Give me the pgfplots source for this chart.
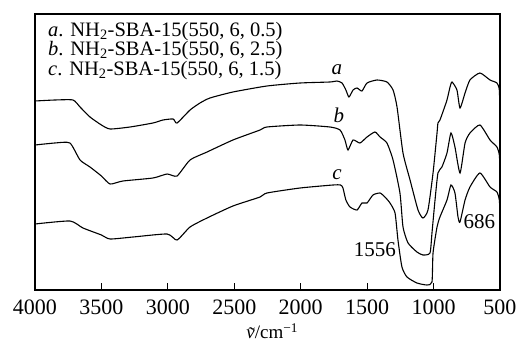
\documentclass[border=0pt]{standalone}
\usepackage{fontspec}
\setmainfont{Liberation Serif}
\usepackage{pgfplots}
\pgfplotsset{compat=1.18}
\usepackage{pgfplotstable}

% wavenumber symbol: italic nu with a tilde set over it
\newcommand{\nutilde}{\textit{\ooalign{ν\cr\hidewidth\raisebox{-0.15ex}{˜}\hidewidth\cr}}}

% FTIR spectra (arbitrary transmittance units, offset per sample)
\pgfplotstableread{
wn    T
4000  189
3850  190
3714  190
3661  183
3586  173
3500  165
3435  161
3285  163
3112  167
3037  170
2960  171
2931  167
2833  180
2758  187
2683  192
2510  198
2254  204
2005  207
1780  208
1727  209
1689  207
1660  200
1637  193
1606  200
1576  202
1539  199
1501  207
1426  210
1351  208
1305  200
1275  183
1230  137
1177  110
1117  80
1080  72
1042  80
1004  117
974   157
967   167
952   170
930   178
899   190
876   203
861   208
824   200
801   182
763   197
726   210
651   217
575   210
523   207
505   200
500   172
}\sampleA

\pgfplotstableread{
wn    T
4000  145
3850  147
3737  147
3661  130
3586  123
3500  114
3435  106
3338  109
3112  112
3006  116
2931  114
2833  130
2705  138
2510  150
2306  160
2254  163
2005  165
1780  163
1704  160
1667  150
1644  140
1606  150
1554  147
1501  153
1441  158
1403  153
1351  147
1305  130
1253  97
1230  63
1192  47
1125  38
1080  35
1027  37
1012  57
989   90
967   117
937   123
899   137
869   157
839   143
801   117
763   147
726   157
651   165
575   150
523   143
505   135
500   118
}\sampleB

\pgfplotstableread{
wn    T
4000  66
3737  69
3639  62
3500  55
3435  51
3262  53
3006  56
2931  50
2833  63
2705  72
2510  84
2306  93
2254  97
2005  102
1757  105
1700  105
1682  102
1660  90
1629  83
1576  80
1539  87
1501  87
1456  95
1403  97
1366  93
1328  87
1290  77
1268  50
1238  23
1200  13
1125  7
1049  5
1012  8
1004  37
974   63
952   73
899   90
869   105
839   97
816   73
801   68
763   90
726   103
651   117
575   103
523   98
505   90
500   75
}\sampleC

\begin{document}
\begin{tikzpicture}
\useasboundingbox (-35pt,-53pt) rectangle (482pt,290pt);
\begin{axis}[
  scale only axis,
  width=465pt, height=276pt,
  x dir=reverse,
  xmin=500, xmax=4000,
  ymin=0, ymax=276,
  xtick={500,1000,...,4000},
  xtick pos=bottom,
  xtick align=inside,
  major tick length=7pt,
  ytick=\empty,
  axis line style={line width=1.1pt},
  every tick/.style={line width=0.9pt, black},
  /pgf/number format/assume math mode=true,
  /pgf/number format/1000 sep={},
  xticklabel style={font=\fontsize{22}{22}\selectfont,
    anchor=center, yshift=-17pt},
  xlabel={\nutilde/cm\textsuperscript{−1}},
  xlabel style={font=\fontsize{19}{19}\selectfont,
    at={(axis description cs:0.51,0)}, anchor=center, yshift=-42pt},
  clip=false,
]
\addplot[black, line width=1.1pt, smooth, tension=0.35] table[x=wn, y=T] {\sampleA};
\addplot[black, line width=1.1pt, smooth, tension=0.35] table[x=wn, y=T] {\sampleB};
\addplot[black, line width=1.1pt, smooth, tension=0.35] table[x=wn, y=T] {\sampleC};

\node[anchor=north west, align=left, inner sep=0pt,
      font=\fontsize{20.5}{15.5}\selectfont]
  at (rel axis cs:0.028,0.972)
  {\textit{a}. NH\textsubscript{2}-SBA-15(550, 6, 0.5)\\
   \textit{b}. NH\textsubscript{2}-SBA-15(550, 6, 2.5)\\
   \textit{c}. NH\textsubscript{2}-SBA-15(550, 6, 1.5)};

\node[font=\fontsize{21}{21}\selectfont\itshape] at (axis cs:1727,220) {a};
\node[font=\fontsize{21}{21}\selectfont\itshape] at (axis cs:1712,175) {b};
\node[font=\fontsize{21}{21}\selectfont\itshape] at (axis cs:1727,115) {c};
\node[font=\fontsize{21}{21}\selectfont] at (axis cs:1441,40) {1556};
\node[font=\fontsize{21}{21}\selectfont] at (axis cs:655,68) {686};
\end{axis}
\end{tikzpicture}
\end{document}
